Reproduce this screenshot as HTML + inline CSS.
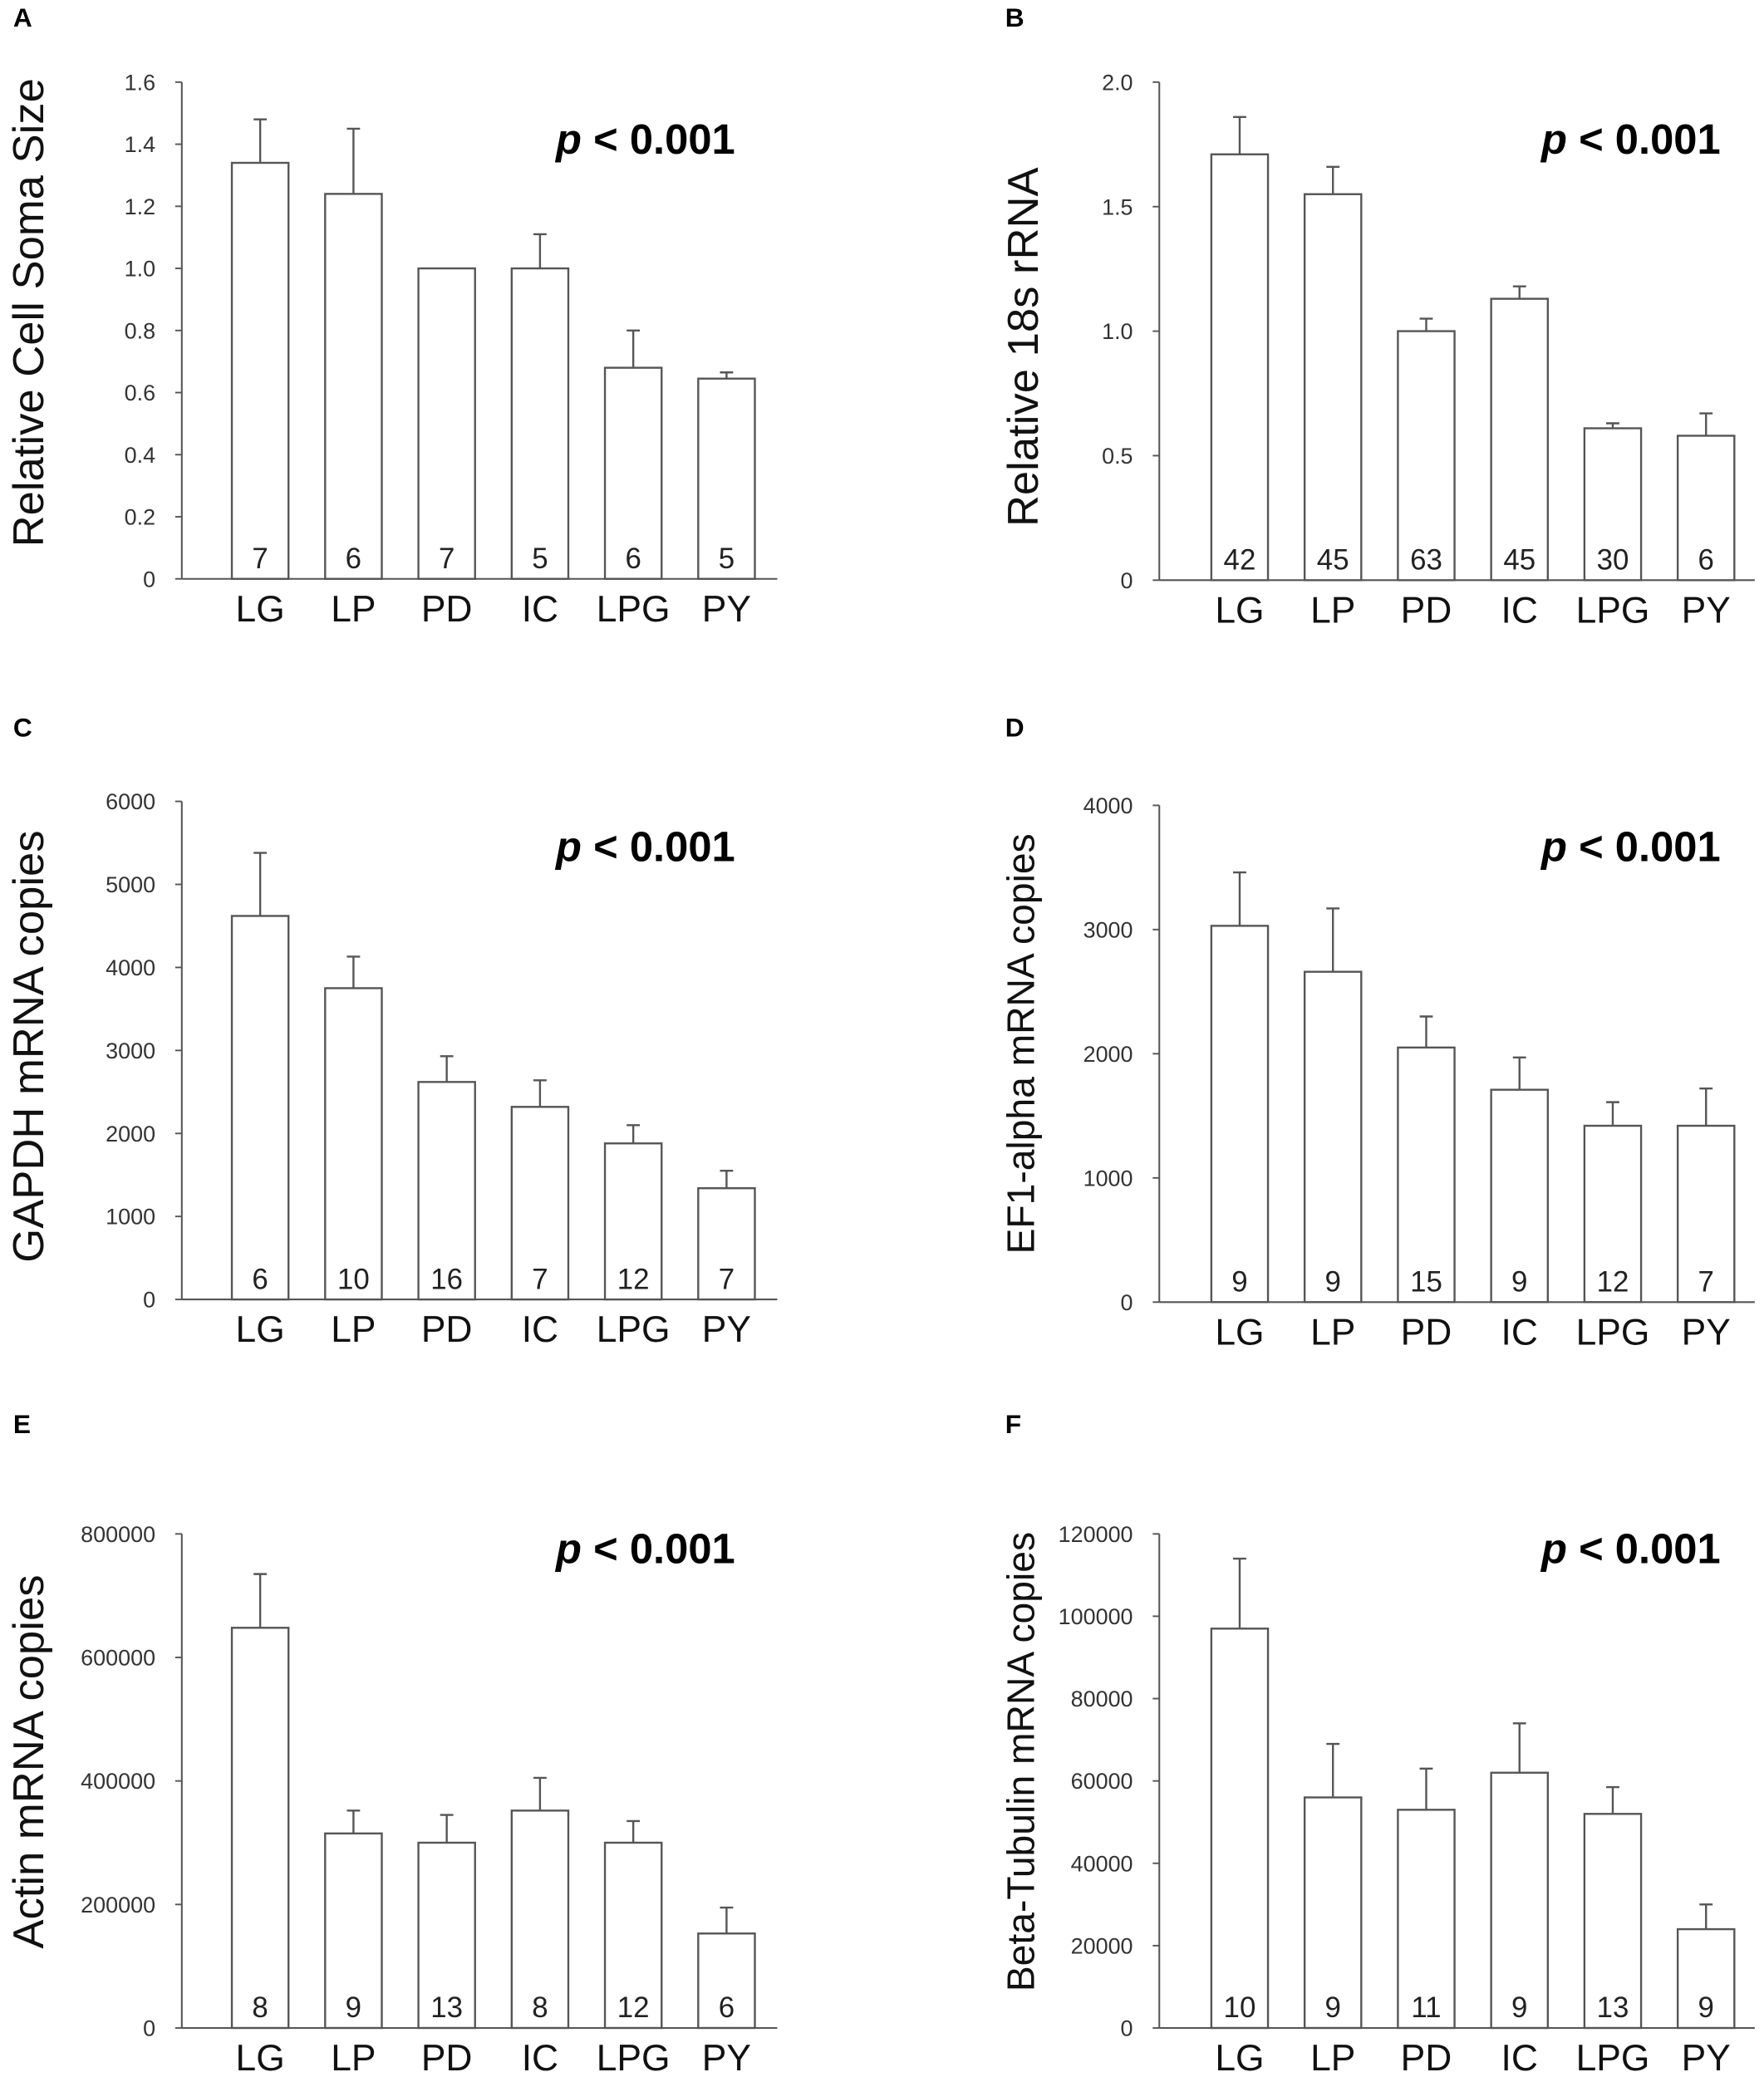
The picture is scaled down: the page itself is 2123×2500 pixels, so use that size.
<!DOCTYPE html>
<html><head><meta charset="utf-8"><style>
html,body{margin:0;padding:0;background:#fff}
svg{display:block}
text{font-family:"Liberation Sans",Arial,sans-serif}
</style></head><body>
<svg id="fig" width="2123" height="2500" viewBox="0 0 1339 1568" preserveAspectRatio="none" xmlns="http://www.w3.org/2000/svg"></svg>
<script>
const categories = ["LG","LP","PD","IC","LPG","PY"];
const valuesA = [1.34,1.24,1.0,1.0,0.68,0.645];
const errA = [1.48,1.45,null,1.11,0.80,0.665];
const nA = ["7","6","7","5","6","5"];
const ticksA = [0,0.2,0.4,0.6,0.8,1.0,1.2,1.4,1.6];
const tickLabelsA = ["0","0.2","0.4","0.6","0.8","1.0","1.2","1.4","1.6"];
const valuesB = [1.71,1.55,1.0,1.13,0.61,0.58];
const errB = [1.86,1.66,1.05,1.18,0.63,0.67];
const nB = ["42","45","63","45","30","6"];
const ticksB = [0,0.5,1.0,1.5,2.0];
const tickLabelsB = ["0","0.5","1.0","1.5","2.0"];
const valuesC = [4620,3750,2620,2320,1880,1340];
const errC = [5380,4130,2930,2640,2100,1550];
const nC = ["6","10","16","7","12","7"];
const ticksC = [0,1000,2000,3000,4000,5000,6000];
const valuesD = [3030,2660,2050,1710,1420,1420];
const errD = [3460,3170,2300,1970,1610,1720];
const nD = ["9","9","15","9","12","7"];
const ticksD = [0,1000,2000,3000,4000];
const valuesE = [648000,315000,300000,352000,300000,153000];
const errE = [735000,352000,345000,405000,335000,195000];
const nE = ["8","9","13","8","12","6"];
const ticksE = [0,200000,400000,600000,800000];
const valuesF = [97000,56000,53000,62000,52000,24000];
const errF = [114000,69000,63000,74000,58500,30000];
const nF = ["10","9","11","9","13","9"];
const ticksF = [0,20000,40000,60000,80000,100000,120000];

const NS="http://www.w3.org/2000/svg";
const svg=document.getElementById('fig');
function mk(tag,attrs,parent,txt){const e=document.createElementNS(NS,tag);for(const k in attrs)e.setAttribute(k,attrs[k]);if(txt!==undefined)e.textContent=txt;(parent||svg).appendChild(e);return e;}

const panels=[
 {id:"a",letter:"A",ax:138,off:59.5,y0:437,y1:62,max:1.6,vals:valuesA,err:errA,n:nA,ticks:ticksA,tl:tickLabelsA,title:"Relative Cell Soma Size",tx:22,ty:236,tfs:33,lx:10,ly:20,px:490,py:116},
 {id:"b",letter:"B",ax:880,off:61,y0:438,y1:62,max:2.0,vals:valuesB,err:errB,n:nB,ticks:ticksB,tl:tickLabelsB,title:"Relative 18s rRNA",tx:777,ty:262,tfs:33,lx:763,ly:20,px:1238,py:116},
 {id:"c",letter:"C",ax:138,off:59.5,y0:981,y1:605,max:6000,vals:valuesC,err:errC,n:nC,ticks:ticksC,tl:ticksC.map(String),title:"GAPDH mRNA copies",tx:22,ty:790,tfs:33,lx:10,ly:556,px:490,py:650},
 {id:"d",letter:"D",ax:880,off:61,y0:983,y1:608,max:4000,vals:valuesD,err:errD,n:nD,ticks:ticksD,tl:ticksD.map(String),title:"EF1-alpha mRNA copies",tx:775,ty:788,tfs:29,lx:763,ly:556,px:1238,py:650},
 {id:"e",letter:"E",ax:138,off:59.5,y0:1531,y1:1158,max:800000,vals:valuesE,err:errE,n:nE,ticks:ticksE,tl:ticksE.map(String),title:"Actin mRNA copies",tx:22,ty:1330,tfs:33,lx:10,ly:1082,px:490,py:1180},
 {id:"f",letter:"F",ax:880,off:61,y0:1531,y1:1158,max:120000,vals:valuesF,err:errF,n:nF,ticks:ticksF,tl:ticksF.map(String),title:"Beta-Tubulin mRNA copies",tx:775,ty:1330,tfs:29,lx:763,ly:1082,px:1238,py:1180}
];

panels.forEach(p=>{
  const g=mk('g',{});
  
  
  const y=v=>p.y0-(v/p.max)*(p.y0-p.y1);
  const x=i=>p.ax+p.off+70.8*i;
  const L=mk('text',{x:p.lx,y:p.ly,'font-size':20,'font-weight':'bold'},g,p.letter);
  
  
  const T=mk('text',{x:p.tx,y:p.ty,'font-size':p.tfs,'text-anchor':'middle','dominant-baseline':'central',transform:`rotate(-90 ${p.tx} ${p.ty})`,fill:'#111'},g,p.title);
  
  
  const ya=mk('line',{x1:p.ax,x2:p.ax,y1:p.y1,y2:p.y0,stroke:'#555','stroke-width':1.3},g);
  
  
  const xa=mk('line',{x1:p.ax,x2:p.ax+452,y1:p.y0,y2:p.y0,stroke:'#555','stroke-width':1.3},g);
  
  
  p.ticks.forEach((t,i)=>{
    const yy=y(t);
    const tk=mk('line',{x1:p.ax-5,x2:p.ax,y1:yy,y2:yy,stroke:'#555','stroke-width':1.2},g);
    
    
    const tt=mk('text',{x:p.ax-20,y:yy+6,'font-size':17,'text-anchor':'end',fill:'#333'},g,p.tl[i]);
    
    
  });
  categories.forEach((c,i)=>{
    const cx=x(i), v=p.vals[i];
    const b=mk('rect',{x:cx-21.5,y:y(v),width:43,height:p.y0-y(v),fill:'#fff',stroke:'#555','stroke-width':1.5},g);
    
    
    if(p.err[i]!==null){
      const e=mk('path',{d:`M${cx} ${y(v)}V${y(p.err[i])}M${cx-5} ${y(p.err[i])}H${cx+5}`,stroke:'#555','stroke-width':1.5,fill:'none'},g);
      
      
    }
    const nt=mk('text',{x:cx,y:p.y0-8,'font-size':22,'text-anchor':'middle',fill:'#222'},g,p.n[i]);
    
    
    const cl=mk('text',{x:cx,y:p.y0+32,'font-size':28,'text-anchor':'middle',fill:'#111'},g,c);
    
    
  });
  const pt=mk('text',{x:p.px,y:p.py,'font-size':32,'font-weight':'bold','text-anchor':'middle'},g);
  
  
  mk('tspan',{'font-style':'italic'},pt,'p');
  mk('tspan',{},pt,' < 0.001');
});
</script>
</body></html>
